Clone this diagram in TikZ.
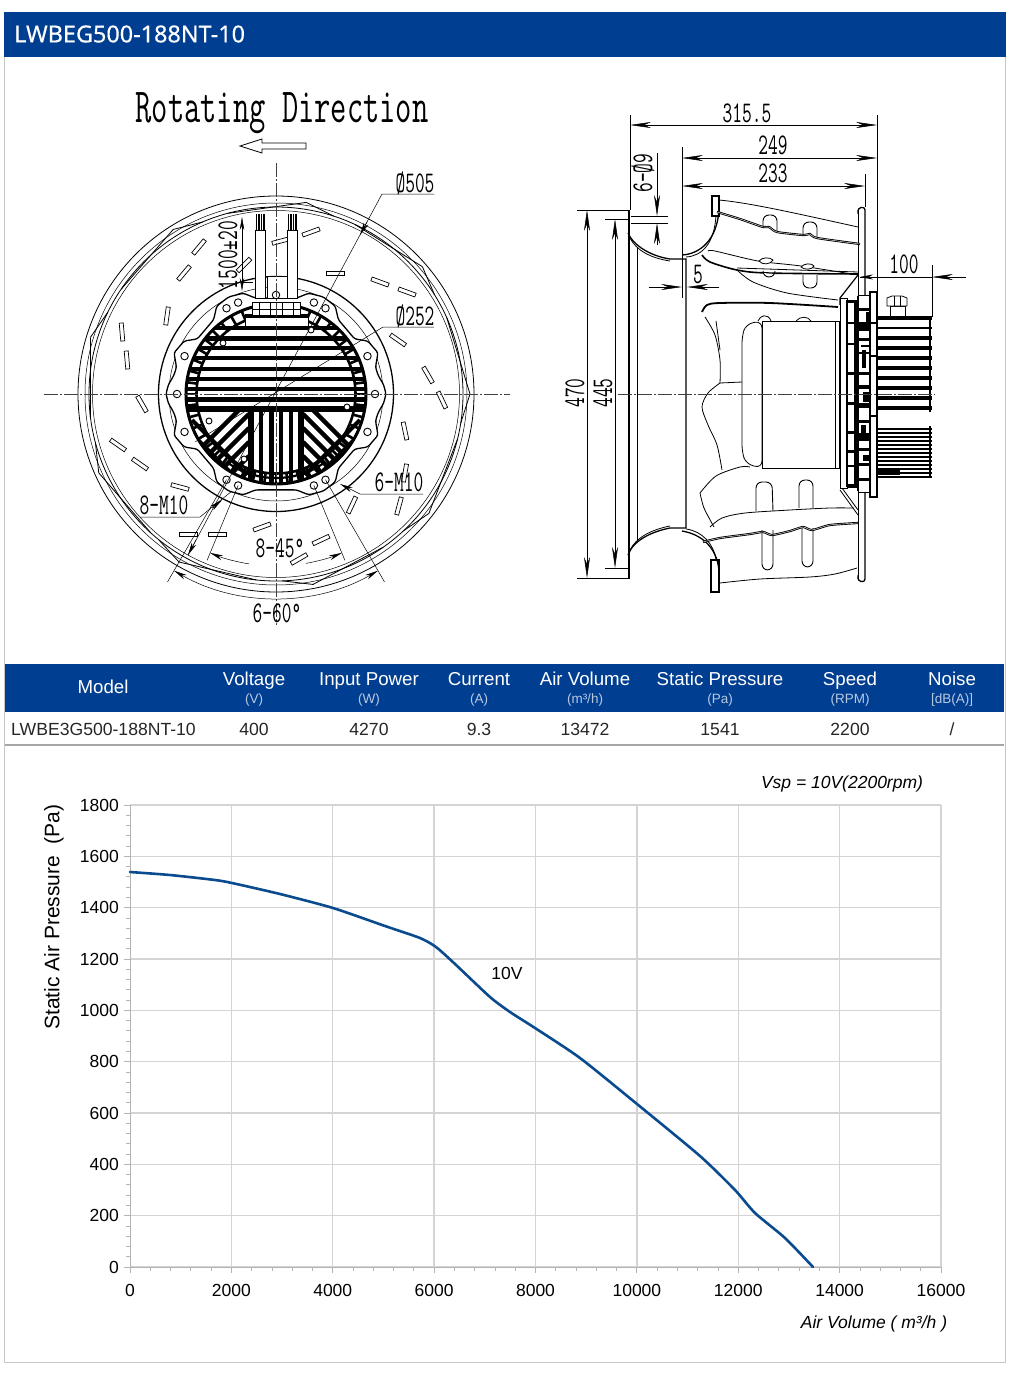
\documentclass[tikz,border=0pt]{standalone}
\usepackage{fontspec}
\setmainfont{Liberation Sans}
\newfontfamily\titlefont[FakeBold=0.3]{Noto Sans}
\usetikzlibrary{arrows.meta}
\definecolor{hdrblue}{HTML}{003E91}
\definecolor{subblue}{HTML}{B9C9E2}
\definecolor{gridgray}{HTML}{D4D4D4}
\definecolor{tickgray}{HTML}{B4B4B4}
\definecolor{curveblue}{HTML}{0A4A8E}
\newcommand{\cadtext}[1]{\scalebox{.63}[1]{#1}}
\tikzset{
    cadline/.style={line width=0.8pt, black},
    cadthin/.style={line width=0.5pt, black},
    cadheavy/.style={line width=1.3pt, black},
    centerline/.style={line width=0.5pt, black!75, dash pattern=on 14pt off 2pt on 2pt off 2pt},
    cadlabel/.style={font=\ttfamily\fontsize{30}{30}\selectfont, inner sep=0pt},
    dimshort/.style={line width=0.5pt, {Stealth[length=13pt,width=4.5pt]}-{Stealth[length=13pt,width=4.5pt]}},
    dimlong/.style={line width=0.5pt, {Stealth[length=21pt,width=6pt]}-{Stealth[length=21pt,width=6pt]}},
    tipone/.style={line width=0.5pt, -{Stealth[length=21pt,width=6pt]}},
    tipsmall/.style={line width=0.5pt, -{Stealth[length=13pt,width=5pt]}},
    bladeslot/.style={draw, line width=0.7pt, fill=white, minimum width=18pt, minimum height=4pt, inner sep=0pt},
    boltmark/.style={draw, circle, line width=0.9pt, fill=white, minimum size=7.5pt, inner sep=0pt},
    slotmark/.style={line width=0.9pt, fill=white, rounded corners=6pt},
    headtext/.style={text=white, anchor=base, font=\fontsize{18.7}{20}\selectfont, inner sep=0pt},
    subtext/.style={text=subblue, anchor=base, font=\fontsize{13.5}{15}\selectfont, inner sep=0pt},
    rowtext/.style={text=black!85, anchor=base, font=\fontsize{17.6}{19}\selectfont, inner sep=0pt},
    ticktext/.style={text=black, font=\fontsize{17.5}{19}\selectfont, inner sep=0pt},
    axistext/.style={text=black, font=\itshape\fontsize{17.5}{19}\selectfont, inner sep=0pt}
}
\begin{document}
\begin{tikzpicture}[x=1pt, y=-1pt]
    \useasboundingbox (0,0) rectangle (1010,1373);
    % Frame and title bar
    \fill[white] (0,0) rectangle (1010,1373);
    \draw[line width=1pt, black!22] (4.5,12) rectangle (1005.5,1362);
    \fill[hdrblue] (4,12) rectangle (1006,57);
    \node[anchor=west, text=white, inner sep=0pt, font=\titlefont\fontsize{23.4}{25}\selectfont] (title) at (14,34) {LWBEG500-188NT-10};

    % Rotating direction
    \node[cadlabel, font=\ttfamily\fontsize{49}{49}\selectfont] (rotdir) at (282,113) {\scalebox{.645}[1]{Rotating Direction}};
    \draw[cadline] (240,146) -- (262,139) -- (262,143) -- (306,143) -- (306,149) -- (262,149) -- (262,153) -- cycle;

    % Front view - impeller rings
    \draw[cadline] (276,394) circle [radius=198pt];
    \draw[cadthin] (276,394) circle [radius=191pt];
    \draw[cadline] (276,394) circle [radius=187pt];
    \draw[cadthin] (276,394) circle [radius=183.5pt];
    \begin{scope}[shift={(276,394)}]
    \foreach \tipa in {0,41,81,122,163,204,240,281,322} {
        \draw[cadline] (\tipa:194pt) -- (\tipa+24:187pt);
        \draw[cadline] (\tipa:194pt) -- (\tipa-9:187pt);
    }
    \end{scope}
    % Front view - blade slots
    \foreach \bx/\by/\ba in {311/232/20, 281/241/15, 199/247/50, 184/273/50, 244/265/45,
        335/273/0, 380/282/-20, 407/292/-20, 167/316/82, 122/332/95, 127/360/95,
        398/340/-35, 428/375/-60, 442/400/-65, 142/404/-60, 405/431/-78, 118/445/-35,
        140/464/-35, 180/487/-15, 352/505/65, 399/506/75, 262/527/20, 321/540/25,
        188/534/0, 217/534/0, 299/559/30, 405/473/80}
        \node[bladeslot, rotate=\ba] (blade\bx) at (\bx,\by) {};

    % Front view - centre rings and flange
    \draw[cadheavy] (276,394) circle [radius=117.5pt];
    \draw[cadthin] (276,394) circle [radius=107pt];
    \begin{scope}[shift={(276,394)}]
    \draw[cadheavy, fill=white, rounded corners=2.5pt]
        (-35:96pt) -- (-30:106pt) -- (-22:110pt) -- (-15:103pt) -- (-10:104pt) -- (-5:108pt) -- (0:110pt) -- (5:108pt) -- (10:104pt) -- (15:103pt) -- (22:110pt) -- (30:106pt) -- (35:96pt)
        -- (50:97pt) -- (56:106pt) -- (64:108pt) -- (72:106pt) -- (78:98pt)
        -- (102:98pt) -- (108:106pt) -- (116:108pt) -- (124:106pt) -- (130:97pt)
        -- (145:96pt) -- (150:106pt) -- (158:110pt) -- (165:103pt) -- (170:104pt) -- (175:108pt) -- (180:110pt) -- (185:108pt) -- (190:104pt) -- (195:103pt) -- (202:110pt) -- (210:106pt) -- (215:96pt)
        -- (230:97pt) -- (236:106pt) -- (244:108pt) -- (252:106pt) -- (258:98pt)
        -- (282:98pt) -- (288:106pt) -- (296:108pt) -- (304:106pt) -- (310:97pt)
        -- cycle;

    % Front view - motor fins
    \begin{scope}
    \clip (0,0) circle [radius=91pt];
    \foreach \fy/\fw in {-66/4.5, -56/5, -46/4.5, -36/4.5, -25/4.5, -15/4.5, -5/4.5, 5/5, 15/6}
        \draw[line width=\fw pt] (-95,\fy) -- (95,\fy);
    \draw[line width=0.5pt, white] (-90,0) -- (90,0);
    \foreach \fx/\fw in {-25/5.5, -15/4, -5/5, 5/4, 15/4, 25/5.5}
        \draw[line width=\fw pt] (\fx,17) -- (\fx,95);
    \begin{scope}
    \clip (-27,17) rectangle (-100,100);
    \foreach \k in {0,1,...,7} {
        \draw[line width=4.5pt] (-27,6+\k*14) -- ++(-75,75);
    }
    \draw[line width=4pt] (-84,26) -- ++(55,55);
    \draw[line width=4pt] (-88,36) -- ++(50,50);
    \end{scope}
    \begin{scope}
    \clip (27,17) rectangle (100,100);
    \foreach \k in {0,1,...,7} {
        \draw[line width=4.5pt] (27,6+\k*14) -- ++(75,75);
    }
    \draw[line width=4pt] (84,26) -- ++(-55,55);
    \draw[line width=4pt] (88,36) -- ++(-50,50);
    \end{scope}
    \end{scope}
    \draw[line width=3pt] (0,0) circle [radius=90pt];
    \draw[line width=2.6pt] (0,0) circle [radius=79.5pt];
    \foreach \spoke in {0,7.5,...,352.5}
        \draw[line width=2.6pt] (\spoke:79pt) -- (\spoke:90pt);
    \draw[line width=2.2pt] (236:84pt) arc (236:304:84pt);

    % Front view - terminal block
    \fill[white] (-31,-77) rectangle (32,-68);
    \draw[cadline] (-31,-68) -- (-31,-77) -- (32,-77) -- (32,-68);
    \draw[line width=2.5pt] (-31,-78.5) -- (32,-78.5);
    \draw[cadline, fill=white] (-24,-92) rectangle (24,-79);
    \foreach \tx in {-17,-6,0,6,17}
        \draw[cadline] (\tx,-92) -- (\tx,-79);
    \draw[cadline] (-24,-85) -- (24,-85);
    \draw[cadline, fill=white] (-9,-118) rectangle (12,-96);
    \end{scope}

    % Front view - cables
    \foreach \cx in {255,287} {
        \draw[cadline, fill=white] (\cx,230) rectangle (\cx+10,298);
        \fill[black] (\cx+0.5,214) rectangle (\cx+9.5,230);
        \foreach \wx in {2.5,5,7.5}
            \draw[white, line width=0.3pt] (\cx+\wx,214) -- (\cx+\wx,230);
    }

    % Front view - bolts
    \foreach \bolta [count=\bi] in {0,22.5,-22.5,180,157.5,202.5,60,67.5,112.5,120,240,247.5,292.5,300,90}
        \node[boltmark, shift={(\bolta:99pt)}] (bolt\bi) at (276,394) {};
    \foreach \holex/\holey in {223/343, 311/330, 347/407, 209/421, 244/459}
        \node[boltmark, minimum size=6pt] (hole\holex) at (\holex,\holey) {};

    % Front view - centre lines
    \draw[centerline] (44,394) -- (510,394);
    \draw[centerline] (276,163) -- (276,625);

    % Front view - dimensions
    \draw[cadthin] (434,194) -- (382,194) -- (188,555);
    \draw[tipsmall] (367,222) -- (360,235);
    \draw[tipsmall] (196,540) -- (188,555);
    \node[cadlabel] (dia505) at (415,183) {\cadtext{Ø505}};
    \draw[cadthin] (434,327) -- (383,327) -- (195,442);
    \node[cadlabel] (dia252) at (415,316) {\cadtext{Ø252}};
    \draw[cadthin, {Stealth[length=13pt,width=5pt]}-] (340,484) -- (360,494) -- (423,494);
    \node[cadlabel] (mten-six) at (399,482) {\cadtext{6-M10}};
    \draw[cadthin] (140,517) -- (200,517) -- (232,491);
    \draw[tipsmall] (212,508) -- (222,500);
    \node[cadlabel] (mten-eight) at (164,505) {\cadtext{8-M10}};
    \foreach \rada in {247.5,292.5}
        \draw[cadthin, shift={(276,394)}] (\rada:99pt) -- (\rada:180pt);
    \foreach \rada in {240,300}
        \draw[cadthin, shift={(276,394)}] (\rada:99pt) -- (\rada:217pt);
    \draw[cadthin, {Stealth[length=13pt,width=5pt]}-] (276,394) ++(247.5:172pt) arc (247.5:261:172pt);
    \draw[cadthin, {Stealth[length=13pt,width=5pt]}-] (276,394) ++(292.5:172pt) arc (292.5:280:172pt);
    \draw[cadthin, {Stealth[length=13pt,width=5pt]}-{Stealth[length=13pt,width=5pt]}] (276,394) ++(240:204pt) arc (240:300:204pt);
    \node[cadlabel] (ang-eight) at (280,548) {\cadtext{8-45°}};
    \node[cadlabel] (ang-six) at (277,613) {\cadtext{6-60°}};
    \draw[dimshort] (242,217) -- (242,291);
    \draw[cadthin] (242,282) -- (253,282);
    \node[cadlabel, rotate=90] (leadlen) at (228,255) {\cadtext{1500±20}};

    % Side view - inlet
    \draw[cadheavy] (629,210) -- (629,578);
    \draw[cadline] (637,247) -- (637,541);
    \draw[cadheavy] (628,233) .. controls (633,245) and (650,256) .. (670,259) -- (686,259) -- (686,528) -- (670,528) .. controls (650,532) and (633,541) .. (628,555);
    \draw[cadline] (630,238) .. controls (636,250) and (650,258) .. (670,261);
    \draw[cadline] (630,550) .. controls (636,538) and (650,530) .. (670,526);

    % Side view - front shroud
    \draw[cadheavy, fill=white] (712,196) rectangle (719,216);
    \draw[cadheavy] (682,255) .. controls (700,254) and (717,240) .. (719,210);
    \draw[cadline] (686,257) .. controls (702,256) and (714,244) .. (716,216);
    \draw[cadheavy, fill=white] (711,592) rectangle (719,560);
    \draw[cadheavy] (682,531) .. controls (700,534) and (717,546) .. (719,571);
    \draw[cadline] (686,529) .. controls (702,531) and (714,544) .. (716,560);

    % Side view - back plate
    \draw[cadheavy, rounded corners=3pt] (858,210) -- (858,208) -- (865,207) -- (865,582) -- (858,581) -- (858,579);
    \draw[cadline] (858,210) -- (858,579);

    % Side view - upper blade
    \draw[cadline] (719,200) .. controls (750,203) and (790,212) .. (858,227);
    \draw[slotmark, draw=black] (763,228) -- (763,215) -- (777,215) -- (777,232);
    \draw[slotmark, draw=black] (803,235) -- (803,222) -- (817,222) -- (817,238);
    \draw[line width=2.2pt] plot[smooth, tension=0.4] coordinates {(717,212) (740,219) (763,227) (769,227) (777,232) (803,235) (810,234) (817,238) (860,244)};
    \draw[white, line width=0.4pt] plot[smooth, tension=0.4] coordinates {(717,212) (740,219) (763,227) (769,227) (777,232) (803,235) (810,234) (817,238) (860,244)};
    \draw[line width=1.6pt] plot[smooth, tension=0.5] coordinates {(702,255) (710,262) (737,270) (767,273) (858,274)};
    \draw[cadline] (737,268) -- (858,272);
    \draw[cadline] plot[smooth, tension=0.5] coordinates {(708,251) (715,251) (758,261) (801,266) (858,275)};
    \draw[cadline, fill=white] (759,261) .. controls (762,257) and (770,257) .. (773,260) .. controls (770,265) and (762,265) .. cycle;
    \draw[cadline, fill=white] (801,267) .. controls (804,263) and (812,263) .. (814,266) .. controls (812,270) and (804,270) .. cycle;
    \draw[slotmark, draw=black] (803,275) -- (803,288) -- (817,288) -- (817,275);
    \draw[slotmark, draw=black] (763,273) -- (763,277) -- (775,277) -- (775,274);
    \draw[cadline] plot[smooth] coordinates {(737,270) (753,282) (787,293) (838,300)};
    \draw[line width=1.2pt] (858,275) -- (840,298) -- (840,305);

    % Side view - rotor and blades
    \draw[line width=1.8pt] plot[smooth] coordinates {(702,312) (707,305) (720,303) (770,303) (838,307)};
    \draw[cadline] plot[smooth] coordinates {(705,317) (715,335) (720,360) (720,383)};
    \draw[cadline] plot[smooth] coordinates {(720,383) (708,393) (702,407) (708,425) (717,445) (722,470)};
    \draw[cadline] (720,383) -- (742,382);
    \draw[cadline] plot[smooth] coordinates {(700,493) (716,476) (740,467) (750,467)};
    \draw[cadline] plot[smooth] coordinates {(700,493) (704,508) (714,527)};
    \draw[cadline] (716,321) -- (720,350);

    % Side view - motor body
    \draw[cadline, fill=white, rounded corners=7pt] (762,321) -- (746,324) -- (742,336) -- (742,452) -- (746,464) -- (762,468) -- cycle;
    \draw[cadline, fill=white] (762,321) rectangle (839,468);
    \draw[cadline] (835,321) -- (835,468);
    \draw[cadline] (758,321) .. controls (760,315) and (768,313) .. (771,321);
    \draw[cadline] (796,321) .. controls (800,316) and (808,316) .. (811,321);

    % Side view - lower blade
    \draw[slotmark, draw=black] (756,511) -- (756,482) -- (772,482) -- (773,511);
    \draw[slotmark, draw=black] (799,508) -- (799,480) -- (813,480) -- (813,508);
    \draw[cadline] plot[smooth] coordinates {(710,527) (722,518) (745,513) (790,510) (830,508) (854,508)};
    \draw[cadline] (840,490) -- (858,515);
    \draw[cadline] (842,488) -- (858,510);
    \draw[slotmark, draw=black] (762,530) -- (762,570) -- (773,570) -- (773,530);
    \draw[slotmark, draw=black] (802,528) -- (802,567) -- (813,567) -- (813,528);
    \draw[line width=2.2pt] plot[smooth, tension=0.4] coordinates {(703,542) (720,538) (750,534) (763,532) (772,535) (790,531) (803,527) (812,530) (830,525) (858,523)};
    \draw[white, line width=0.4pt] plot[smooth, tension=0.4] coordinates {(703,542) (720,538) (750,534) (763,532) (772,535) (790,531) (803,527) (812,530) (830,525) (858,523)};
    \draw[cadline] plot[smooth] coordinates {(720,583) (760,579) (810,577) (835,574) (857,568)};

    % Side view - drive plates
    \draw[cadline, fill=white] (840,298) rectangle (847,488);
    \draw[cadline, fill=white] (847,300) rectangle (857,487);
    \draw[cadline, fill=white] (858,295) rectangle (870,492);
    \draw[cadheavy, fill=white] (870,292) rectangle (877,497);
    \draw[line width=3pt] (855.5,300) -- (855.5,487);
    \draw[line width=2pt] (847,300) -- (847,487);
    \draw[line width=2pt] (858,296) -- (858,491);
    \foreach \py/\ph in {300/3, 322/2, 343/2, 372/3, 402/3, 431/3, 450/3, 465/2, 484/3}
        \fill[black] (847,\py) rectangle (857,\py+\ph);
    \foreach \py/\ph in {308/3, 322/9, 338/3, 352/2, 372/3, 385/4, 403/5, 420/3, 433/8, 448/3, 463/3, 478/3}
        \fill[black] (858,\py) rectangle (870,\py+\ph);
    \foreach \px/\py/\pw/\ph in {861/345/9/2, 862/350/4/18, 863/392/6/10, 866/312/4/10, 861/425/5/8, 863/455/7/6,
        871/322/6/2, 871/355/6/2, 871/415/6/2}
        \fill[black] (\px,\py) rectangle (\px+\pw,\py+\ph);

    % Side view - heat sink and gland
    \draw[cadline, fill=white] (890,306) -- (890,317) -- (905,317) -- (905,306) -- cycle;
    \draw[cadline, fill=white] (887,298) -- (892,296) -- (902,296) -- (907,298) -- (907,306) -- (887,306) -- cycle;
    \draw[cadline] (894,296) -- (894,306) (900,296) -- (900,306);
    \draw[cadheavy] (930,318) -- (930,412) (930,426) -- (930,477);
    \foreach \fin/\fw in {318/4, 328/2.5, 338/4, 348/3.5, 358/4, 368/4, 378/3.5, 388/4, 398/4, 408/3.5}
        \draw[line width=\fw pt] (878,\fin) -- (932,\fin);
    \foreach \fin in {429,433,...,473}
        \draw[line width=2pt] (878,\fin) -- (932,\fin);
    \draw[line width=2pt] (878,477) -- (932,477);
    \fill[black] (878,469) rectangle (900,475);

    % Side view - centre line
    \draw[centerline] (618,394) -- (935,394);

    % Side view - dimensions
    \draw[cadthin] (630,115) -- (630,210);
    \draw[cadthin] (877,115) -- (877,300);
    \draw[dimlong] (630,125) -- (877,125);
    \node[cadlabel] (dim315) at (747,113) {\cadtext{315.5}};
    \draw[cadthin] (682,147) -- (682,298);
    \draw[dimlong] (682,158) -- (877,158);
    \node[cadlabel] (dim249) at (773,145) {\cadtext{249}};
    \draw[cadthin] (865,174) -- (865,207);
    \draw[dimlong] (682,186) -- (865,186);
    \node[cadlabel] (dim233) at (773,173) {\cadtext{233}};
    \draw[cadthin] (631,216) -- (668,216);
    \draw[cadthin] (631,223) -- (668,223);
    \draw[tipone] (657,153) -- (657,216);
    \draw[tipone] (657,245) -- (657,223);
    \node[cadlabel, rotate=90] (dim6d9) at (643,173) {\cadtext{6-Ø9}};
    \draw[cadthin] (577,210) -- (630,210);
    \draw[cadthin] (577,578) -- (630,578);
    \draw[dimlong] (587,210) -- (587,578);
    \node[cadlabel, rotate=90] (dim470) at (575,393) {\cadtext{470}};
    \draw[cadthin] (605,219) -- (630,219);
    \draw[cadthin] (605,568) -- (630,568);
    \draw[dimlong] (615,219) -- (615,568);
    \node[cadlabel, rotate=90] (dim445) at (603,393) {\cadtext{445}};
    \draw[cadthin] (682,257) -- (682,298);
    \draw[tipone] (649,287) -- (682,287);
    \draw[tipone] (719,287) -- (687,287);
    \node[cadlabel] (dim5) at (698,275) {\cadtext{5}};
    \draw[cadthin] (932,265) -- (932,317);
    \draw[tipsmall] (880,277) -- (860,277);
    \draw[tipone] (966,277) -- (932,277);
    \draw[cadthin] (860,277) -- (932,277);
    \node[cadlabel] (dim100) at (904,264) {\cadtext{100}};

    % Data table
    \fill[hdrblue] (5,664) rectangle (1004,712);
    \draw[line width=1.5pt, black!35] (5,745) -- (1004,745);
    \node[headtext] (hmodel) at (103,693) {Model};
    \foreach \hname/\hx/\hmain/\hsub in {volt/254/Voltage/(V), power/369/Input Power/(W), curr/479/Current/(A),
        press/720/Static Pressure/(Pa), speed/850/Speed/(RPM), noise/952/Noise/[dB(A)]} {
        \node[headtext] (h\hname) at (\hx,685) {\hmain};
        \node[subtext] (s\hname) at (\hx,703) {\hsub};
    }
    \node[headtext] (hair) at (585,685) {Air Volume};
    \node[subtext] (sair) at (585,703) {(m³/h)};
    \node[rowtext, anchor=base west] (rmodel) at (11,735) {LWBE3G500-188NT-10};
    \foreach \rname/\rx/\rval in {volt/254/400, power/369/4270, curr/479/9.3, air/585/13472, press/720/1541, speed/850/2200}
        \node[rowtext] (r\rname) at (\rx,735) {\rval};
    \node[rowtext] (rnoise) at (952,735) {/};

    % Chart grid
    \foreach \yv in {0,200,...,1800}
        \draw[line width=1.3pt, gridgray] (130,1267-\yv*0.25667) -- (941,1267-\yv*0.25667);
    \foreach \xi in {1,2,...,8}
        \draw[line width=1.3pt, gridgray] (130+\xi*101.375,805) -- (130+\xi*101.375,1267);
    \draw[line width=1pt, tickgray] (130,805) -- (130,1273);
    \draw[line width=1pt, tickgray] (124,1267) -- (941,1267);
    % Chart ticks
    \foreach \yv in {0,40,...,1800}
        \draw[line width=0.8pt, tickgray] (126,1267-\yv*0.25667) -- (130,1267-\yv*0.25667);
    \foreach \yv in {0,200,...,1800} {
        \draw[line width=1pt, tickgray] (124,1267-\yv*0.25667) -- (130,1267-\yv*0.25667);
        \node[ticktext, anchor=east] (ylab\yv) at (119,1267-\yv*0.25667) {\yv};
    }
    \foreach \xm in {0,1,...,40}
        \draw[line width=0.8pt, tickgray] (130+\xm*20.275,1267) -- (130+\xm*20.275,1271);
    \foreach \xi/\xl in {0/0, 1/2000, 2/4000, 3/6000, 4/8000, 5/10000, 6/12000, 7/14000, 8/16000} {
        \draw[line width=1pt, tickgray] (130+\xi*101.375,1267) -- (130+\xi*101.375,1273);
        \node[ticktext] (xlab\xi) at (130+\xi*101.375,1290) {\xl};
    }
    % Chart curve
    \draw[line width=2.6pt, curveblue, line cap=round] plot[smooth, tension=0.4] coordinates {(130,872) (170,875) (215,880) (232,883) (280,894) (333,908) (385,926) (420,938) (436,947) (455,964) (490,997) (510,1012) (535,1028) (580,1058) (637,1104) (700,1156) (735,1190) (755,1213) (785,1238) (813,1267)};
    % Chart labels
    \node[ticktext] (curvelab) at (507,973) {10V};
    \node[axistext] (vsplab) at (842,784) {Vsp = 10V(2200rpm)};
    \node[axistext] (xaxislab) at (874,1324) {Air Volume ( m³/h )};
    \node[text=black, inner sep=0pt, rotate=90, font=\fontsize{21}{23}\selectfont] (yaxislab) at (54,917) {Static Air Pressure~~(Pa)};
\end{tikzpicture}
\end{document}
